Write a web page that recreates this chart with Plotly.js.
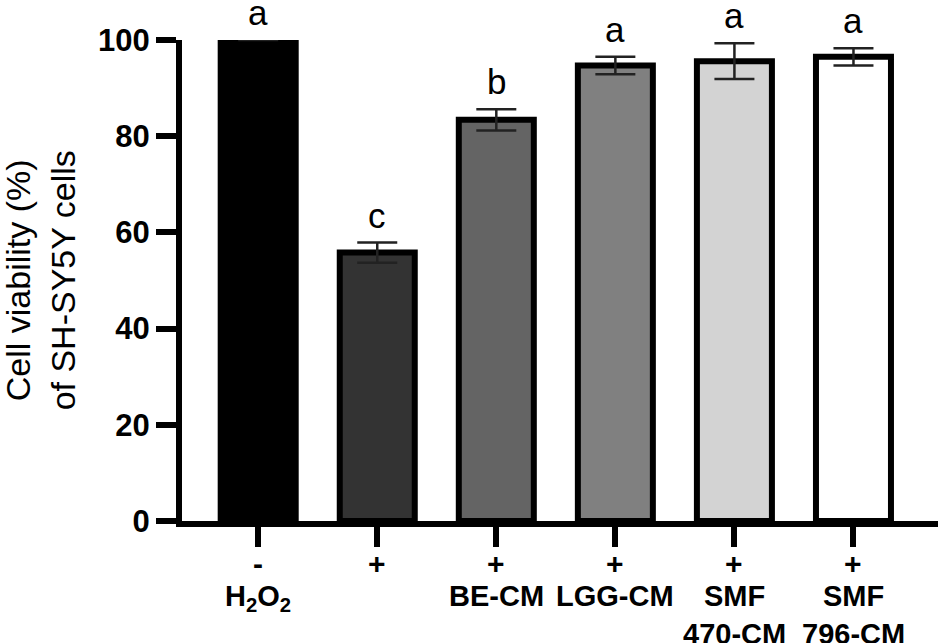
<!DOCTYPE html>
<html>
<head>
<meta charset="utf-8">
<script src="https://cdn.plot.ly/plotly-3.0.1.min.js"></script>
<style>html,body{margin:0;padding:0;background:#fff;}#chart{width:938px;height:643px;}</style>
</head>
<body>
<div id="chart"></div>
<script>
// ---- data ----
var groups = ['Control', 'H2O2', 'BE-CM', 'LGG-CM', 'SMF 470-CM', 'SMF 796-CM'];
var h2o2Signs = ['-', '+', '+', '+', '+', '+'];
var groupLabels = ['H<sub>2</sub>O<sub>2</sub>', '', 'BE-CM', 'LGG-CM', 'SMF<br>470-CM', 'SMF<br>796-CM'];
var viability = [100, 55.8, 83.4, 94.7, 95.6, 96.5];
var sem = [0, 2.1, 2.2, 1.8, 3.7, 1.8];
var sigLetters = ['a', 'c', 'b', 'a', 'a', 'a'];
var barColors = ['#000000', '#333333', '#646464', '#808080', '#d3d3d3', '#ffffff'];
var yTitle = 'Cell viability (%)<br>of SH-SY5Y cells';

var FONT = 'Liberation Sans, Arial, Helvetica, sans-serif';

var trace = {
  type: 'bar',
  x: groups,
  y: viability,
  width: 0.63,
  marker: {color: barColors, line: {color: '#000', width: 6}},
  error_y: {type: 'data', array: sem, visible: true, color: '#222', thickness: 2.5, width: 20},
  cliponaxis: false,
  hoverinfo: 'none'
};

var annotations = [];
for (var i = 0; i < groups.length; i++) {
  annotations.push({
    x: groups[i], y: viability[i] + sem[i], xref: 'x', yref: 'y',
    text: sigLetters[i], showarrow: false, yanchor: 'bottom', yshift: 6,
    font: {family: FONT, size: 35, color: '#000'}
  });
  annotations.push({
    x: groups[i], y: -0.088, xref: 'x', yref: 'paper',
    text: '<b>' + h2o2Signs[i] + '</b>', showarrow: false, yanchor: 'middle',
    font: {family: FONT, size: 30, color: '#000'}
  });
  if (groupLabels[i]) {
    annotations.push({
      x: groups[i], y: -0.118, xref: 'x', yref: 'paper',
      text: '<b>' + groupLabels[i] + '</b>', showarrow: false, yanchor: 'top',
      font: {family: FONT, size: 29, color: '#000'}
    });
  }
}
annotations.push({
  x: -0.188, y: 0.5, xref: 'paper', yref: 'paper',
  text: yTitle, textangle: -90, showarrow: false,
  xanchor: 'center', yanchor: 'middle',
  font: {family: FONT, size: 34, color: '#000'}
});

var layout = {
  width: 938, height: 643,
  margin: {l: 182, r: 0, t: 40, b: 122},
  paper_bgcolor: '#fff', plot_bgcolor: '#fff',
  showlegend: false,
  xaxis: {
    type: 'category',
    range: [-0.64, 5.71],
    tickvals: groups,
    showticklabels: false,
    ticks: 'outside', ticklen: 20, tickwidth: 6, tickcolor: '#000',
    showline: true, linecolor: '#000', linewidth: 6,
    showgrid: false, zeroline: false, fixedrange: true
  },
  yaxis: {
    range: [0, 100],
    tickvals: [0, 20, 40, 60, 80, 100],
    ticktext: ['<b>0</b>', '<b>20</b>', '<b>40</b>', '<b>60</b>', '<b>80</b>', '<b>100</b>'],
    tickfont: {family: FONT, size: 31, color: '#000'},
    ticks: 'outside', ticklen: 20, tickwidth: 6, tickcolor: '#000',
    showline: true, linecolor: '#000', linewidth: 6,
    showgrid: false, zeroline: false, fixedrange: true
  },
  annotations: annotations
};

Plotly.newPlot('chart', [trace], layout, {displayModeBar: false, staticPlot: true});
</script>
</body>
</html>
